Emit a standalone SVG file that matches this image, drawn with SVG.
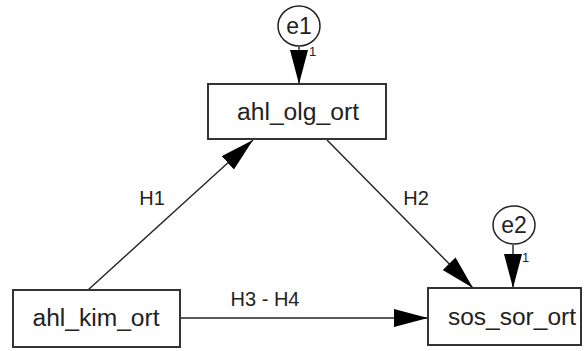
<svg xmlns="http://www.w3.org/2000/svg" width="586" height="351" viewBox="0 0 586 351">
<style>
.box{fill:#fff;stroke:#333;stroke-width:2}
.circ{fill:#fff;stroke:#222;stroke-width:1.5}
.lbl{font-family:"Liberation Sans",Arial,sans-serif;fill:#222}
.node{font-size:23px;text-anchor:middle}
.edge{font-size:20px;text-anchor:middle}
.one{font-size:13px}
.conn{stroke:#222;stroke-width:1.4;fill:none}
</style>
<defs>
<marker id="ah" markerUnits="userSpaceOnUse" markerWidth="36" markerHeight="20" refX="34" refY="9" orient="auto" viewBox="0 0 36 20">
<path d="M0,0 L34,9 L0,18 Z" fill="#000"/>
</marker>
</defs>
<rect width="586" height="351" fill="#fff"/>
<g id="connectors">
<line class="conn" x1="299" y1="47" x2="299" y2="84" marker-end="url(#ah)"/>
<line class="conn" x1="513" y1="245" x2="513" y2="288" marker-end="url(#ah)"/>
<line class="conn" x1="88" y1="290" x2="253" y2="140" marker-end="url(#ah)"/>
<line class="conn" x1="327" y1="140" x2="473" y2="288" marker-end="url(#ah)"/>
<line class="conn" x1="180" y1="318" x2="428" y2="318" marker-end="url(#ah)"/>
<text class="lbl edge" x="152" y="205">H1</text>
<text class="lbl edge" x="416" y="205">H2</text>
<text class="lbl edge" x="265" y="306">H3 - H4</text>
<text class="lbl one" x="309" y="56">1</text>
<text class="lbl one" x="522" y="262">1</text>
</g>
<g id="e1">
<ellipse class="circ" cx="299" cy="26" rx="21" ry="20"/>
<text class="lbl node" x="299" y="34" font-size="22">e1</text>
</g>
<g id="e2">
<ellipse class="circ" cx="514" cy="225" rx="21" ry="19"/>
<text class="lbl node" x="514" y="233" font-size="22">e2</text>
</g>
<g id="ahl_olg_ort">
<rect class="box" x="208" y="84" width="178" height="55"/>
<text class="lbl node" x="298" y="120" textLength="122" lengthAdjust="spacingAndGlyphs">ahl_olg_ort</text>
</g>
<g id="ahl_kim_ort">
<rect class="box" x="13" y="290" width="167" height="57"/>
<text class="lbl node" x="96" y="326" textLength="127" lengthAdjust="spacingAndGlyphs">ahl_kim_ort</text>
</g>
<g id="sos_sor_ort">
<rect class="box" x="428" y="288" width="153" height="57"/>
<text class="lbl node" x="512" y="325" textLength="128" lengthAdjust="spacingAndGlyphs">sos_sor_ort</text>
</g>
</svg>
